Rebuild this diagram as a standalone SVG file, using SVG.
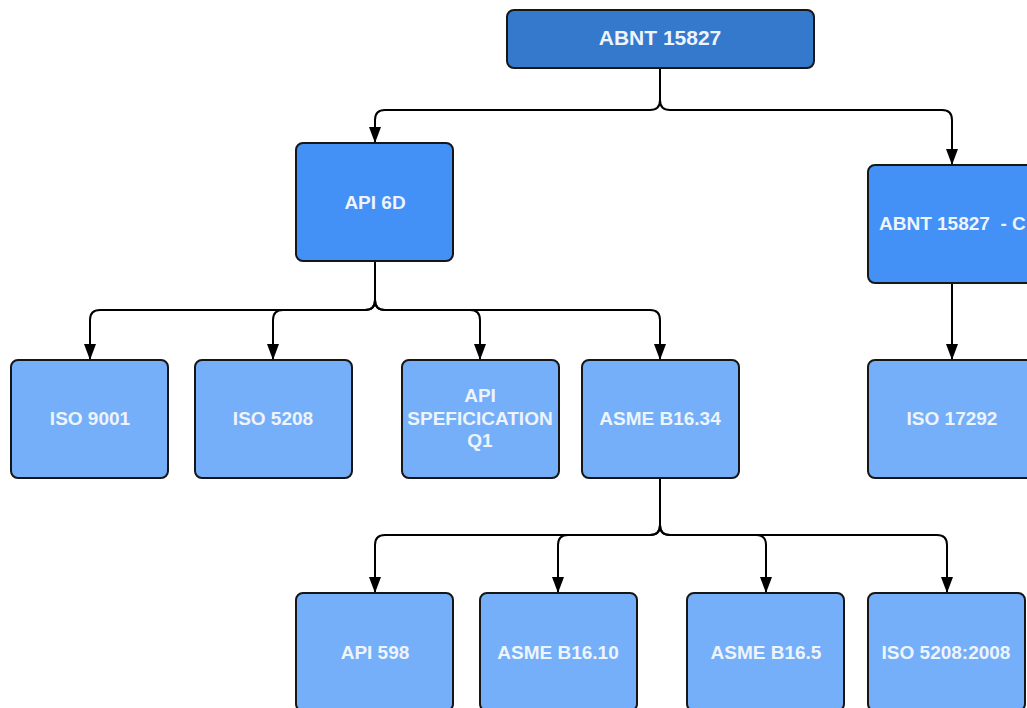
<svg xmlns="http://www.w3.org/2000/svg" width="1027" height="708" viewBox="0 0 1027 708">
<defs>
<marker id="arr" viewBox="0 0 16 12" refX="16" refY="6" markerWidth="16" markerHeight="12" markerUnits="userSpaceOnUse" orient="auto">
<path d="M0 0 L16 6 L0 12 Z" fill="#000"/>
</marker>
<style>
.box{stroke:#161616;stroke-width:2}
.dark{fill:#3579cd}
.mid{fill:#4390f7}
.light{fill:#75aff9}
text{font-family:"Liberation Sans",Arial,sans-serif;font-weight:bold;fill:#eef4fc;text-anchor:middle;font-size:19px}
.conn path{fill:none;stroke:#000;stroke-width:2;marker-end:url(#arr)}
</style>
</defs>
<rect width="1027" height="708" fill="#fff"/>
<g class="conn" id="connectors">
<path d="M660 68 V100 Q660 110 650 110 H385 Q375 110 375 120 V143"/>
<path d="M660 68 V100 Q660 110 670 110 H942 Q952 110 952 120 V165"/>
<path d="M375 261 V300 Q375 310 365 310 H100 Q90 310 90 320 V360"/>
<path d="M375 261 V300 Q375 310 365 310 H283 Q273 310 273 320 V360"/>
<path d="M375 261 V300 Q375 310 385 310 H470 Q480 310 480 320 V360"/>
<path d="M375 261 V300 Q375 310 385 310 H650 Q660 310 660 320 V360"/>
<path d="M952 283 V360"/>
<path d="M660 478 V525 Q660 535 650 535 H385 Q375 535 375 545 V593"/>
<path d="M660 478 V525 Q660 535 650 535 H568 Q558 535 558 545 V593"/>
<path d="M660 478 V525 Q660 535 670 535 H756 Q766 535 766 545 V593"/>
<path d="M660 478 V525 Q660 535 670 535 H937 Q947 535 947 545 V593"/>
</g>
<g id="n-abnt"><rect class="box dark" x="507" y="10" width="307" height="58" rx="7"/><text x="660" y="45" style="font-size:21px">ABNT 15827</text></g>
<g id="n-api6d"><rect class="box mid" x="296" y="143" width="157" height="118" rx="7"/><text x="375" y="209">API 6D</text></g>
<g id="n-abntc"><rect class="box mid" x="868" y="165" width="170" height="118" rx="7"/><text x="879" y="230" style="text-anchor:start" xml:space="preserve">ABNT 15827  - C</text></g>
<g id="n-iso9001"><rect class="box light" x="11" y="360" width="157" height="118" rx="7"/><text x="90" y="425">ISO 9001</text></g>
<g id="n-iso5208"><rect class="box light" x="195" y="360" width="157" height="118" rx="7"/><text x="273" y="425">ISO 5208</text></g>
<g id="n-apiq1"><rect class="box light" x="402" y="360" width="157" height="118" rx="7"/><text x="480" y="402">API</text><text x="480" y="425">SPEFICICATION</text><text x="480" y="447">Q1</text></g>
<g id="n-b1634"><rect class="box light" x="582" y="360" width="157" height="118" rx="7"/><text x="660" y="425">ASME B16.34</text></g>
<g id="n-iso17292"><rect class="box light" x="868" y="360" width="170" height="118" rx="7"/><text x="952" y="425">ISO 17292</text></g>
<g id="n-api598"><rect class="box light" x="296" y="593" width="157" height="118" rx="7"/><text x="375" y="659">API 598</text></g>
<g id="n-b1610"><rect class="box light" x="480" y="593" width="157" height="118" rx="7"/><text x="558" y="659">ASME B16.10</text></g>
<g id="n-b165"><rect class="box light" x="687" y="593" width="157" height="118" rx="7"/><text x="766" y="659">ASME B16.5</text></g>
<g id="n-iso52082008"><rect class="box light" x="868" y="593" width="157" height="118" rx="7"/><text x="946" y="659">ISO 5208:2008</text></g>
</svg>
